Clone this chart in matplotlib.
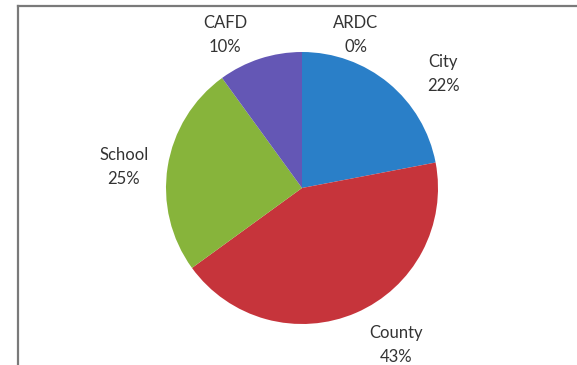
import matplotlib
matplotlib.use("Agg")
import matplotlib.pyplot as plt
from matplotlib.lines import Line2D

categories = ["ARDC", "City", "County", "School", "CAFD"]
values = [0, 22, 43, 25, 10]
colors = ["#2A7FC8", "#2A7FC8", "#C6343B", "#87B43B", "#6457B5"]
label_texts = ["ARDC\n0%", "City\n22%", "County\n43%", "School\n25%", "CAFD\n10%"]
# label positions (pixels, y-up)
label_pos = [(356, 330), (443, 291), (396, 20), (124, 198), (225, 330)]

W, H = 577, 365
fig = plt.figure(figsize=(W / 100, H / 100), dpi=100)
ax = fig.add_axes([0, 0, 1, 1])

ax.pie(values, colors=colors, startangle=90, counterclock=False,
       center=(302, 177), radius=136, frame=True,
       wedgeprops=dict(linewidth=0))
ax.set_xlim(0, W)
ax.set_ylim(0, H)
ax.set_aspect("equal")
ax.axis("off")

for t, (x, y) in zip(label_texts, label_pos):
    ax.text(x, y, t, ha="center", va="center", fontsize=12,
            family=["Lato", "DejaVu Sans"], color="#333333", linespacing=1.55)

# chart frame
ax.add_line(Line2D([18, 18], [0, 359], color="#7a7a7a", lw=1.6))
ax.add_line(Line2D([18, W], [359, 359], color="#7a7a7a", lw=1.6))

fig.savefig("out.png", dpi=100)
